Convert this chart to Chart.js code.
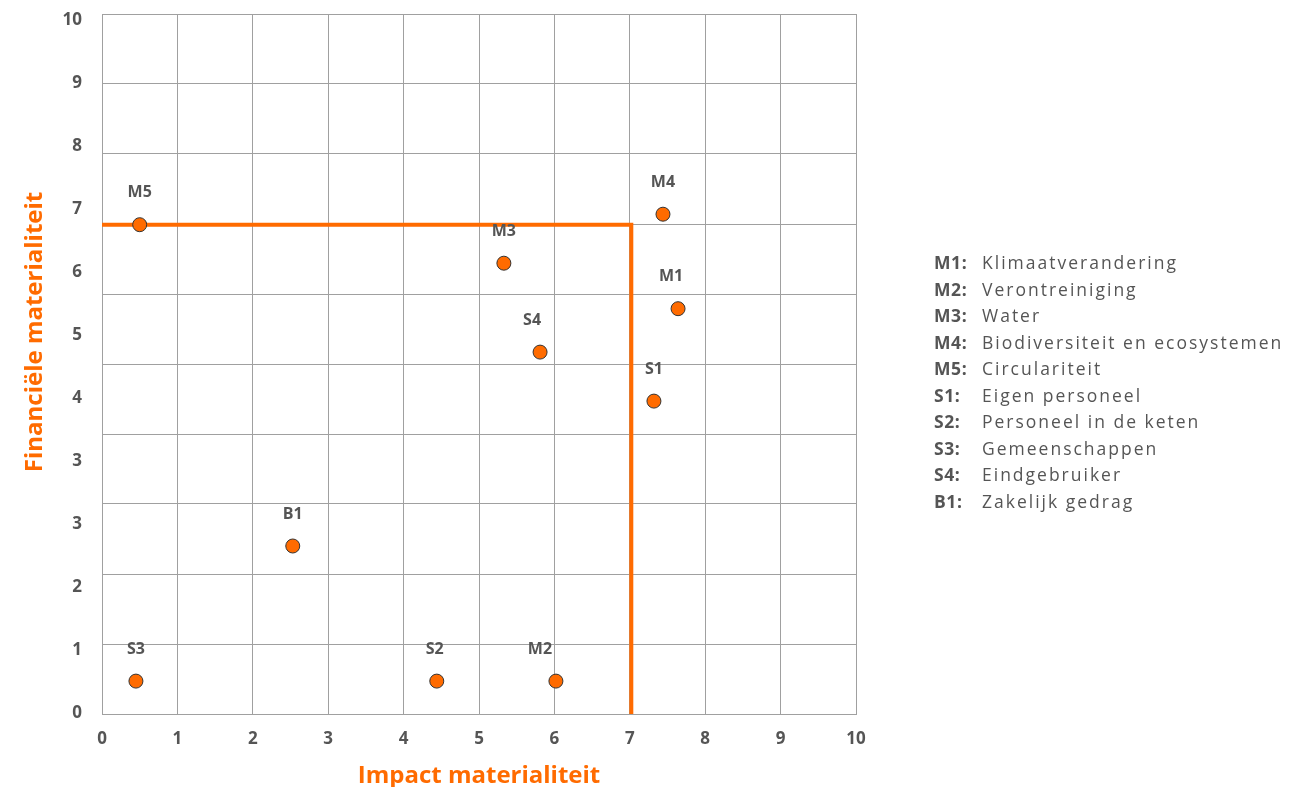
<!DOCTYPE html>
<html>
<head>
<meta charset="utf-8">
<script src="https://cdn.jsdelivr.net/npm/chart.js@4/dist/chart.umd.min.js"></script>
<style>
  body { margin: 0; background: #fff; font-family: "Open Sans", sans-serif; }
  #wrap { position: relative; width: 1309px; height: 787px; }
  #legend { position: absolute; left: 934px; top: 249px; color: #555; font-size: 17.5px; letter-spacing: 2px; }
  #legend .row { display: flex; height: 26.5px; line-height: 26.5px; white-space: nowrap; }
  #legend .code { width: 48px; font-weight: 700; letter-spacing: 0.6px; }
</style>
</head>
<body>
<div id="wrap">
  <canvas id="chart" width="1309" height="787"></canvas>
  <div id="legend"></div>
</div>
<script>
// topic codes and scores (impact = x, financial = y)
const codes = ['M1', 'M2', 'M3', 'M4', 'M5', 'S1', 'S2', 'S3', 'S4', 'B1'];
const impact = [7.64, 6.02, 5.33, 7.44, 0.5, 7.32, 4.44, 0.45, 5.81, 2.53];
const financial = [5.79, 0.47, 6.44, 7.14, 6.99, 4.47, 0.47, 0.47, 5.17, 2.4];
const topicNames = ['Klimaatverandering', 'Verontreiniging', 'Water', 'Biodiversiteit en ecosystemen',
    'Circulariteit', 'Eigen personeel', 'Personeel in de keten', 'Gemeenschappen', 'Eindgebruiker', 'Zakelijk gedrag'];

// materiality threshold line
const thresholdX = [0, 7.02, 7.02];
const thresholdY = [6.99, 6.99, 0];

// tick labels as printed in the source
const xTickLabels = ['0', '1', '2', '3', '4', '5', '6', '7', '8', '9', '10'];
const yTickLabels = ['0', '1', '2', '3', '3', '4', '5', '6', '7', '8', '9', '10'];

const ORANGE = '#ff6b00';
const GREY = '#555555';
const GRID = '#a0a0a0';

// small label nudges (px) so labels sit like in the source
const labelNudge = [-7, -16, 0, 0, 0, 0, -2, 0, -8, 0];

const pointLabelPlugin = {
    id: 'pointLabels',
    afterDatasetsDraw(chart) {
        const meta = chart.getDatasetMeta(0);
        const ctx = chart.ctx;
        ctx.save();
        ctx.font = 'bold 16px "Open Sans"';
        ctx.fillStyle = GREY;
        ctx.textAlign = 'center';
        ctx.textBaseline = 'middle';
        meta.data.forEach((pt, i) => {
            ctx.fillText(codes[i], pt.x + labelNudge[i], pt.y - 32);
        });
        ctx.restore();
    }
};

const yTitlePlugin = {
    id: 'yTitle',
    afterDraw(chart) {
        const ctx = chart.ctx;
        ctx.save();
        ctx.translate(35, 332);
        ctx.rotate(-Math.PI / 2);
        ctx.font = 'bold 24px "Open Sans"';
        ctx.fillStyle = ORANGE;
        ctx.textAlign = 'center';
        ctx.textBaseline = 'middle';
        ctx.fillText('Financiële materialiteit', 0, 0);
        ctx.restore();
    }
};

const noPad = scale => {
    scale.paddingTop = 0;
    scale.paddingBottom = 0;
    scale.paddingLeft = 0;
    scale.paddingRight = 0;
};

new Chart(document.getElementById('chart'), {
    type: 'scatter',
    data: {
        datasets: [
            {
                label: 'Topics',
                data: impact.map((x, i) => ({ x, y: financial[i] })),
                backgroundColor: ORANGE,
                borderColor: '#333333',
                borderWidth: 1,
                pointRadius: 7,
                order: 1
            },
            {
                type: 'line',
                label: 'Drempel',
                data: thresholdX.map((x, i) => ({ x, y: thresholdY[i] })),
                borderColor: ORANGE,
                borderWidth: 4,
                pointRadius: 0,
                fill: false,
                tension: 0,
                clip: false,
                borderJoinStyle: 'miter',
                order: 2
            }
        ]
    },
    options: {
        responsive: false,
        animation: false,
        layout: { padding: { top: 14, right: 453, left: 0, bottom: 0 } },
        plugins: {
            legend: { display: false },
            tooltip: { enabled: false }
        },
        scales: {
            x: {
                type: 'linear',
                min: 0,
                max: 10,
                grid: { color: GRID, drawTicks: false },
                border: { color: GRID },
                afterBuildTicks: scale => { scale.ticks = xTickLabels.map((_, i) => ({ value: i })); },
                ticks: {
                    padding: 15,
                    color: GREY,
                    font: { family: 'Open Sans', size: 17, weight: 'bold' },
                    callback: (v, i) => xTickLabels[i]
                },
                title: {
                    display: true,
                    text: 'Impact materialiteit',
                    color: ORANGE,
                    font: { family: 'Open Sans', size: 24, weight: 'bold' },
                    padding: { top: 4, bottom: -4 }
                },
                afterFit: scale => { scale.height = 73; noPad(scale); }
            },
            y: {
                type: 'linear',
                min: 0,
                max: 10,
                grid: { color: GRID, drawTicks: false },
                border: { color: GRID },
                afterBuildTicks: scale => { scale.ticks = xTickLabels.map((_, i) => ({ value: i })); },
                ticks: { display: false },
                afterFit: scale => { scale.width = 0; noPad(scale); }
            },
            yLab: {
                type: 'linear',
                position: 'left',
                min: -0.0159,
                max: 11.095,
                grid: { display: false, drawTicks: false },
                border: { display: false },
                afterBuildTicks: scale => { scale.ticks = yTickLabels.map((_, i) => ({ value: i })); },
                ticks: {
                    padding: 20,
                    color: GREY,
                    font: { family: 'Open Sans', size: 17, weight: 'bold' },
                    callback: (v, i) => yTickLabels[i]
                },
                afterFit: scale => { scale.width = 102; noPad(scale); }
            }
        }
    },
    plugins: [pointLabelPlugin, yTitlePlugin]
});

const legendEl = document.getElementById('legend');
codes.forEach((code, i) => {
    const row = document.createElement('div');
    row.className = 'row';
    row.innerHTML = `<span class="code">${code}:</span><span>${topicNames[i]}</span>`;
    legendEl.appendChild(row);
});
</script>
</body>
</html>
